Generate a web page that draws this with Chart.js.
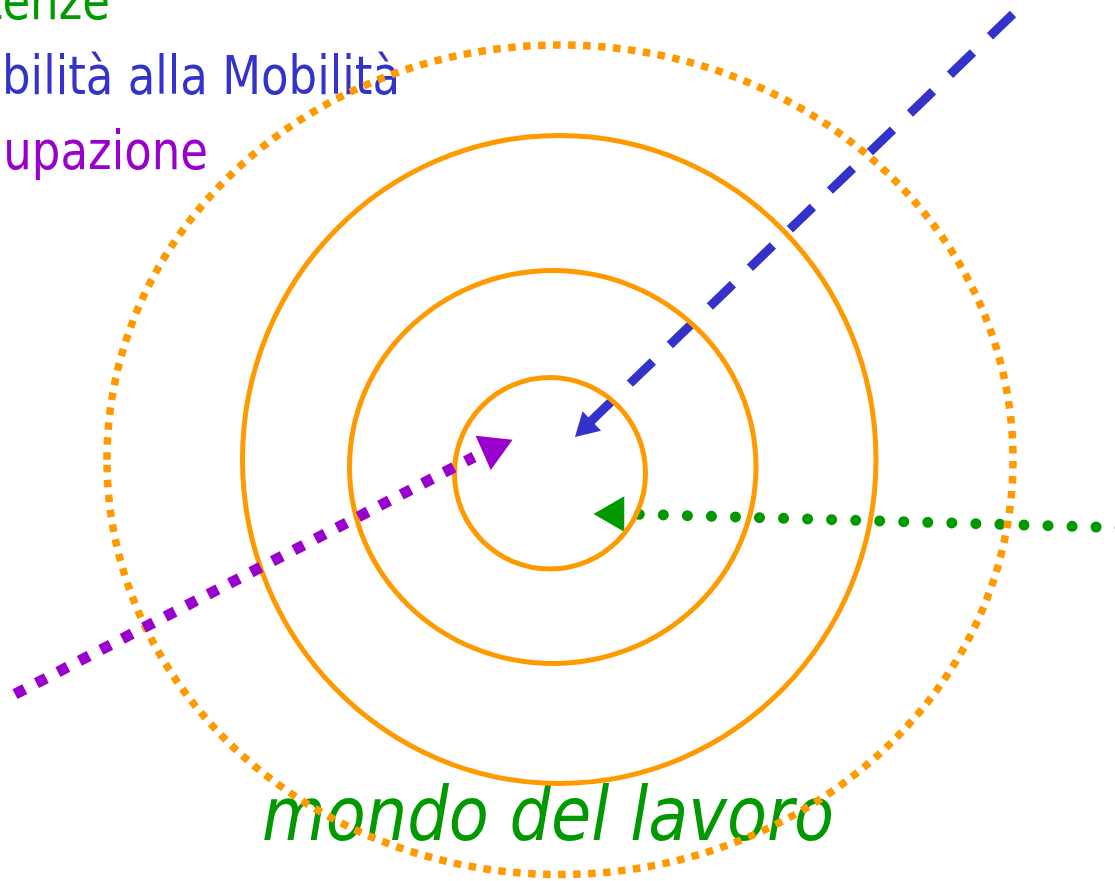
<!DOCTYPE html>
<html lang="it">
<head>
<meta charset="utf-8">
<title>mondo del lavoro</title>
<script src="https://cdn.jsdelivr.net/npm/chart.js@4/dist/chart.umd.min.js"></script>
<style>
  html, body { margin: 0; padding: 0; background: #fff; }
  #stage { position: relative; width: 1115px; height: 881px; overflow: hidden; }
  #labels, #diagram { position: absolute; left: 0; top: 0; }
  #labels text { font-family: "DejaVu Sans Condensed", "DejaVu Sans", sans-serif; font-stretch: condensed; }
</style>
</head>
<body>
<div id="stage">
  <svg id="labels" width="1115" height="881" xmlns="http://www.w3.org/2000/svg"></svg>
  <canvas id="diagram" width="1115" height="881"></canvas>
</div>
<script>
"use strict";

// everything is in picture pixels, measured from the top-left corner

// rings, outermost (dotted) first: left / right / top / bottom extremes
const ringLeft = [107, 242.5, 349.5, 454.5];
const ringRight = [1013, 876, 756, 645.5];
const ringTop = [45, 135.5, 270.5, 377.5];
const ringBottom = [874.5, 783.5, 663.5, 569];

// arrow shafts: start and end point
const purpleShaftX = [15, 474];
const purpleShaftY = [694.2, 457];
const blueShaftX = [1013, 588.4];
const blueShaftY = [14, 423.6];
const greenShaftX = [639.3, 1125];
const greenShaftY = [514.3, 527.8];

// arrow heads (purple, blue, green): centre and direction in degrees, 0 = up
const headX = [493, 586.2, 614];
const headY = [448.5, 426.3, 514];
const headAngle = [186, 226.5, 270];

// texts (the slide is cut off on the left)
const sideLabels = ["tenze", "bilità alla Mobilità", "upazione"];
const footLabel = "mondo del lavoro";

const ORANGE = "#ff9900";
const GREEN = "#009900";
const BLUE = "#3333cc";
const PURPLE = "#9900cc";

function toPoints(xs, ys) {
  return xs.map((x, i) => ({ x: x, y: ys[i] }));
}

function ringPoints(i) {
  const cx = (ringLeft[i] + ringRight[i]) / 2;
  const cy = (ringTop[i] + ringBottom[i]) / 2;
  const left = { x: ringLeft[i], y: cy };
  const top = { x: cx, y: ringTop[i] };
  const right = { x: ringRight[i], y: cy };
  const bottom = { x: cx, y: ringBottom[i] };
  // go round once and a bit: only the four middle segments are drawn,
  // so each of them has a neighbour on both sides for the curve
  return [bottom, left, top, right, bottom, left, top, right];
}

const ringDatasets = ringLeft.map((_, i) => ({
  label: "ring " + i,
  data: ringPoints(i),
  borderColor: ORANGE,
  borderWidth: i === 0 ? 7.5 : 5,
  borderDash: i === 0 ? [7.5, 7.5] : [],
  borderCapStyle: "butt",
  tension: 0.5523, // bezier circle constant
  order: 1,
  segment: {
    borderColor: (c) =>
      c.p0DataIndex >= 1 && c.p0DataIndex <= 4 ? undefined : "rgba(0,0,0,0)",
  },
}));

function arrow(k, color, shaft, line, headRadius, order) {
  return [
    {
      label: "head " + k,
      data: [{ x: headX[k], y: headY[k] }],
      showLine: false,
      pointStyle: "triangle",
      pointRadius: headRadius,
      pointHoverRadius: headRadius,
      pointRotation: headAngle[k],
      pointBackgroundColor: color,
      pointBorderWidth: 0,
      order: order,
    },
    Object.assign(
      {
        label: "shaft " + k,
        data: shaft,
        borderColor: color,
        order: order,
      },
      line
    ),
  ];
}

const datasets = [].concat(
  arrow(0, PURPLE, toPoints(purpleShaftX, purpleShaftY),
    { borderWidth: 11, borderDash: [11, 13.15], borderCapStyle: "butt" }, 21.5, 0),
  ringDatasets,
  arrow(1, BLUE, toPoints(blueShaftX, blueShaftY),
    { borderWidth: 9, borderDash: [32, 23.6], borderCapStyle: "butt" }, 15.5, 2),
  arrow(2, GREEN, toPoints(greenShaftX, greenShaftY),
    { borderWidth: 11, borderDash: [0.001, 24.05], borderCapStyle: "round" }, 20.5, 3)
);

new Chart(document.getElementById("diagram"), {
  type: "line",
  data: { datasets: datasets },
  options: {
    responsive: false,
    devicePixelRatio: 1,
    animation: false,
    events: [],
    layout: { padding: 0, autoPadding: false },
    datasets: { line: { clip: false } },
    elements: { point: { radius: 0, hoverRadius: 0 } },
    scales: {
      x: { type: "linear", min: 0, max: 1115, display: false },
      y: { type: "linear", min: 0, max: 881, reverse: true, display: false },
    },
    plugins: {
      legend: { display: false },
      tooltip: { enabled: false },
    },
  },
});

// text layer under the canvas (the dotted ring runs over the words)
const SVG_NS = "http://www.w3.org/2000/svg";
const labelLayer = document.getElementById("labels");

function addText(text, color, size, italic, anchor) {
  const node = document.createElementNS(SVG_NS, "text");
  node.textContent = text;
  node.setAttribute("fill", color);
  node.setAttribute("font-size", size);
  node.setAttribute("text-anchor", anchor);
  if (italic) node.setAttribute("font-style", "italic");
  labelLayer.appendChild(node);
  return node;
}

const sideColors = [GREEN, BLUE, PURPLE];
const sideRight = [110, 400, 208];
const sideBaseline = [19, 93.5, 168.5];
const sideNodes = sideLabels.map((t, i) => addText(t, sideColors[i], 53, false, "end"));
const sideScale = 398 / sideNodes[1].getComputedTextLength();
sideNodes.forEach((node, i) => {
  node.setAttribute("transform",
    "translate(" + sideRight[i] + " " + sideBaseline[i] + ") scale(" + sideScale + " 1)");
});

const foot = addText(footLabel, GREEN, 75, true, "start");
const footScale = 572 / foot.getComputedTextLength();
foot.setAttribute("transform", "translate(262 840) scale(" + footScale + " 1)");
</script>
</body>
</html>
